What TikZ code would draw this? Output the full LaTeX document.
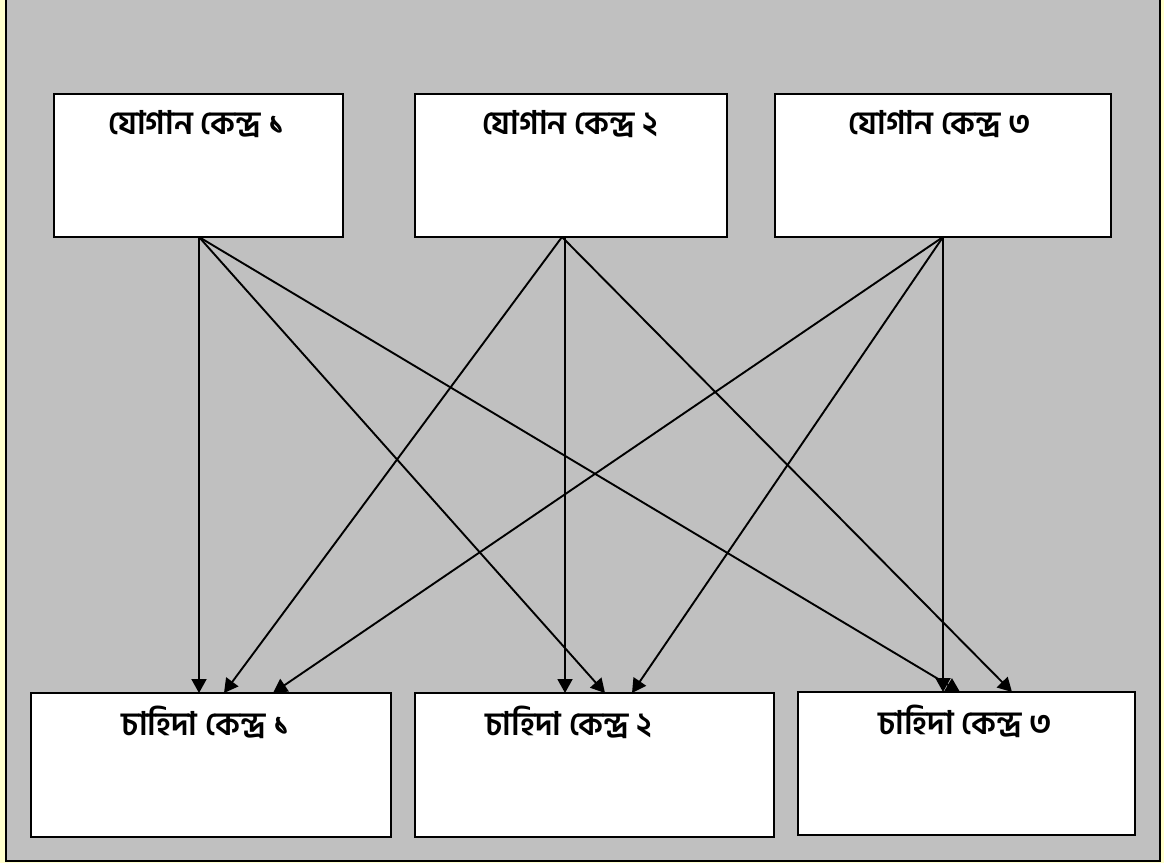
\documentclass[tikz,border=0pt]{standalone}
\usepackage{fontspec}
\newfontfamily\bn[Script=Bengali]{Hind Siliguri}
\usetikzlibrary{arrows.meta}
\definecolor{bgyellow}{HTML}{FFFFCC}
\definecolor{bggray}{HTML}{C0C0C0}
\tikzset{
  box/.style={draw=black, line width=2.6pt, fill=white, rectangle, inner sep=0pt},
  lbl/.style={font=\bn\bfseries\fontsize{32.5}{38}\selectfont, inner sep=0pt, anchor=center},
  conn/.style={line width=1.9pt, -{Triangle[length=14pt,width=15pt]}}
}
\begin{document}
\begin{tikzpicture}[x=1pt,y=-1pt]
\useasboundingbox (0,0) rectangle (1164,863);
\fill[bgyellow] (0,0) rectangle (1164,863);
\fill[bggray] (6,0) rectangle (1160,861);
\draw[line width=2pt] (6,-2) -- (6,861) -- (1160,861) -- (1160,-2);
% supply boxes
\node[box, minimum width=289pt, minimum height=143pt] (t1) at (198.5,165.5) {};
\node[box, minimum width=312pt, minimum height=143pt] (t2) at (571,165.5) {};
\node[box, minimum width=336pt, minimum height=143pt] (t3) at (943,165.5) {};
% demand boxes
\node[box, minimum width=360pt, minimum height=144pt] (b1) at (211,765) {};
\node[box, minimum width=359pt, minimum height=144pt] (b2) at (594.5,765) {};
\node[box, minimum width=337pt, minimum height=143pt] (b3) at (966.5,763.5) {};
% labels
\node[lbl] (lt1) at (197,124) {যোগান কেন্দ্র ১};
\node[lbl] (lt2) at (570,124) {যোগান কেন্দ্র ২};
\node[lbl] (lt3) at (940,124) {যোগান কেন্দ্র ৩};
\node[lbl] (lb1) at (206,722) {চাহিদা কেন্দ্র ১};
\node[lbl] (lb2) at (569,722) {চাহিদা কেন্দ্র ২};
\node[lbl] (lb3) at (965,721) {চাহিদা কেন্দ্র ৩};
% connector end points
\coordinate (s1) at (199,237);
\coordinate (s2) at (562,237);
\coordinate (s2v) at (565,237);
\coordinate (s3) at (943,237);
\coordinate (d11) at (199,693);
\coordinate (d21) at (224,693);
\coordinate (d31) at (273,693);
\coordinate (d12) at (605,693);
\coordinate (d22) at (565,693);
\coordinate (d32) at (632,693);
\coordinate (d13) at (960,692);
\coordinate (d23) at (1012,692);
\coordinate (d33) at (943,692);
\draw[conn] (s1) -- (d11);
\draw[conn] (s1) -- (d12);
\draw[conn] (s1) -- (d13);
\draw[conn] (s2) -- (d21);
\draw[conn] (s2v) -- (d22);
\draw[conn] (s2) -- (d23);
\draw[conn] (s3) -- (d31);
\draw[conn] (s3) -- (d32);
\draw[conn] (s3) -- (d33);
\end{tikzpicture}
\end{document}
